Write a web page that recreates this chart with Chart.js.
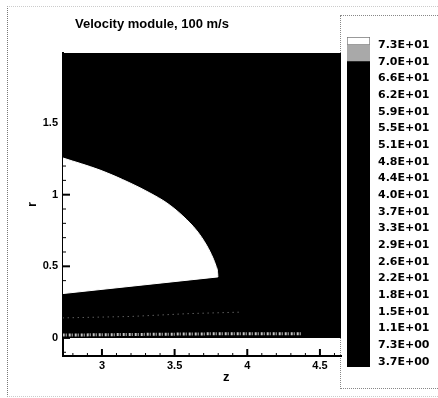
<!DOCTYPE html>
<html lang="en">
<head>
    <meta charset="UTF-8">
    <title>Velocity module, 100 m/s</title>
    <style>
        body {
            margin: 0;
            background: #fff;
            width: 438px;
            height: 398px;
            overflow: hidden;
            position: relative;
            font-family: "Liberation Sans", Arial, sans-serif;
        }
        .frame {
            position: absolute;
            left: 7px;
            top: 6px;
            width: 460px;
            height: 389px;
            border-left: 1px dotted #777;
            border-top: 1px dotted #ccc;
            border-bottom: 1px dotted #ccc;
        }
        .legend-box {
            position: absolute;
            left: 340px;
            top: 15px;
            width: 120px;
            height: 372px;
            border: 1px dotted #888;
        }
        .plot-title {
            position: absolute;
            left: 75px;
            top: 17px;
            font-size: 13px;
            line-height: 13px;
            font-weight: bold;
            white-space: nowrap;
        }
        .axis-z {
            position: absolute;
            left: 223px;
            top: 370px;
            font-size: 13px;
            line-height: 13px;
            font-weight: bold;
        }
        #mainChart { position: absolute; left: 0; top: 0; }
        #barChart { position: absolute; left: 341px; top: 0; }
    </style>
</head>
<body>
    <div class="frame"></div>
    <div class="legend-box"></div>
    <canvas id="mainChart" width="345" height="398"></canvas>
    <canvas id="barChart" width="97" height="398"></canvas>
    <div class="plot-title">Velocity module, 100 m/s</div>
    <div class="axis-z">z</div>

    <script src="https://cdn.jsdelivr.net/npm/chart.js"></script>

    <script>
        // flow field (z, r)
        const fieldZ = [2.7, 4.7];
        const fieldR = [2.0, 2.0];
        // slow core (white region): upper contour and its base
        const coreZ = [2.732, 2.986, 3.193, 3.330, 3.447, 3.557, 3.654, 3.723, 3.764, 3.785, 3.795, 3.798];
        const coreTopR = [1.256, 1.172, 1.082, 1.012, 0.942, 0.851, 0.747, 0.642, 0.558, 0.502, 0.465, 0.426];
        const coreBaseZ = [2.732, 3.798];
        const coreBaseR = [0.31, 0.426];
        // thin contour streaks near the axis
        const wallZ = [2.73, 3.3, 3.9, 4.38];
        const wallR = [0.02, 0.025, 0.03, 0.03];
        const shearZ = [2.73, 3.2, 3.6, 3.95];
        const shearR = [0.14, 0.15, 0.17, 0.18];

        const zTicks = [3, 3.5, 4, 4.5];
        const rTicks = [0, 0.5, 1, 1.5];

        // colour bar levels (ascending) and their labels
        const levelValues = [3.66, 7.33, 10.99, 14.65, 18.32, 21.98, 25.64, 29.31, 32.97, 36.64,
                             40.30, 43.96, 47.63, 51.29, 54.95, 58.62, 62.28, 65.95, 69.61, 73.27];
        const levelLabels = ['3.7E+00', '7.3E+00', '1.1E+01', '1.5E+01', '1.8E+01', '2.2E+01', '2.6E+01',
                             '2.9E+01', '3.3E+01', '3.7E+01', '4.0E+01', '4.4E+01', '4.8E+01', '5.1E+01',
                             '5.5E+01', '5.9E+01', '6.2E+01', '6.6E+01', '7.0E+01', '7.3E+01'];
        const bandLow = [2.56, 69.61, 73.27];
        const bandHigh = [69.61, 73.27, 75.03];
        const bandColors = ['#000000', '#a9a9a9', '#ffffff'];

        const pts = (xs, ys) => xs.map((v, i) => ({ x: v, y: ys[i] }));
        const tickFont = { family: '"Liberation Sans", Arial, sans-serif', size: 11, weight: 'bold' };

        // tecplot style ticks pointing into the plot
        const inwardTicks = {
            id: 'inwardTicks',
            afterDatasetsDraw(chart) {
                const { ctx, chartArea: a, scales: { x, y } } = chart;
                ctx.save();
                ctx.strokeStyle = '#000';
                for (let k = 27; k <= 47; k++) {
                    const px = x.getPixelForValue(k / 10);
                    if (px < a.left + 2 || px > a.right) continue;
                    const major = k % 5 === 0;
                    ctx.lineWidth = major ? 2 : 1;
                    ctx.beginPath();
                    ctx.moveTo(px, a.bottom);
                    ctx.lineTo(px, a.bottom - (major ? 7 : 3));
                    ctx.stroke();
                }
                for (let k = -1; k <= 19; k++) {
                    const py = y.getPixelForValue(k / 10);
                    if (py < a.top || py > a.bottom - 2) continue;
                    const major = k % 5 === 0;
                    ctx.lineWidth = major ? 2 : 1;
                    ctx.beginPath();
                    ctx.moveTo(a.left, py);
                    ctx.lineTo(a.left + (major ? 7 : 3), py);
                    ctx.stroke();
                }
                ctx.restore();
            }
        };

        new Chart(document.getElementById('mainChart'), {
            type: 'line',
            data: {
                datasets: [
                    {
                        data: pts(fieldZ, fieldR),
                        backgroundColor: '#000',
                        borderWidth: 0,
                        fill: 'origin',
                        order: 3
                    },
                    {
                        data: pts(coreZ, coreTopR),
                        backgroundColor: '#fff',
                        borderColor: '#fff',
                        borderWidth: 1,
                        cubicInterpolationMode: 'monotone',
                        fill: '+1',
                        order: 2
                    },
                    {
                        data: pts(coreBaseZ, coreBaseR),
                        borderColor: '#fff',
                        borderWidth: 1,
                        fill: false,
                        order: 2
                    },
                    {
                        data: pts(shearZ, shearR),
                        borderColor: '#8a8a8a',
                        borderWidth: 1,
                        borderDash: [1, 4],
                        fill: false,
                        order: 1
                    },
                    {
                        data: pts(wallZ, wallR),
                        borderColor: '#c4c4c4',
                        borderWidth: 3,
                        borderDash: [2, 1, 1, 2],
                        fill: false,
                        order: 0
                    }
                ]
            },
            options: {
                responsive: false,
                animation: false,
                parsing: false,
                elements: { point: { radius: 0 }, line: { tension: 0 } },
                layout: { padding: { left: 18, right: 4, top: 53, bottom: 8 } },
                plugins: { legend: { display: false }, tooltip: { enabled: false } },
                scales: {
                    x: {
                        type: 'linear',
                        min: 2.732,
                        max: 4.645,
                        grid: { display: false, drawTicks: false },
                        border: { display: true, color: '#000', width: 2 },
                        afterBuildTicks: (s) => { s.ticks = zTicks.map(v => ({ value: v })); },
                        afterFit: (s) => { s.height = 34; },
                        ticks: { color: '#000', font: tickFont, padding: 3, maxRotation: 0, callback: (v) => String(v) }
                    },
                    y: {
                        type: 'linear',
                        min: -0.126,
                        max: 1.989,
                        grid: { display: false, drawTicks: false },
                        border: { display: true, color: '#000', width: 2 },
                        afterBuildTicks: (s) => { s.ticks = rTicks.map(v => ({ value: v })); },
                        afterFit: (s) => { s.width = 45; },
                        ticks: { color: '#000', font: tickFont, padding: 5, callback: (v) => String(v) },
                        title: {
                            display: true,
                            text: 'r',
                            color: '#000',
                            font: { family: '"Liberation Sans", Arial, sans-serif', size: 12, weight: 'bold' },
                            padding: { top: 7, bottom: 0 }
                        }
                    }
                }
            },
            plugins: [inwardTicks]
        });

        new Chart(document.getElementById('barChart'), {
            type: 'bar',
            data: {
                labels: [''],
                datasets: bandLow.map((lo, i) => ({
                    data: [[lo, bandHigh[i]]],
                    backgroundColor: bandColors[i],
                    borderColor: i === 2 ? '#777' : bandColors[i],
                    borderWidth: i === 2 ? 1 : 0,
                    borderSkipped: false,
                    grouped: false,
                    barPercentage: 1,
                    categoryPercentage: 1
                }))
            },
            options: {
                responsive: false,
                animation: false,
                layout: { padding: { left: 6, right: 0, top: 37, bottom: 31 } },
                plugins: { legend: { display: false }, tooltip: { enabled: false } },
                scales: {
                    x: { display: false },
                    y: {
                        position: 'right',
                        min: 2.56,
                        max: 75.03,
                        grid: { display: false, drawTicks: false },
                        border: { display: false },
                        afterBuildTicks: (s) => { s.ticks = levelValues.map(v => ({ value: v })); },
                        afterFit: (s) => { s.width = 68; },
                        ticks: {
                            color: '#000',
                            padding: 8,
                            font: { family: '"DejaVu Sans", sans-serif', size: 11, weight: 'bold' },
                            callback: (v, i) => levelLabels[i]
                        }
                    }
                }
            }
        });
    </script>
</body>
</html>
